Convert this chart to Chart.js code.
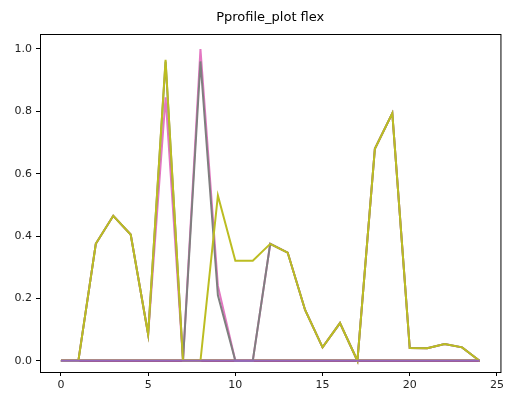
<!DOCTYPE html>
<html>
<head>
<meta charset="utf-8">
<script src="https://cdn.jsdelivr.net/npm/chart.js@4/dist/chart.umd.min.js"></script>
<style>
  html, body { margin: 0; padding: 0; background: #fff; }
  canvas { display: block; }
</style>
</head>
<body>
<canvas id="chart" width="507" height="400"></canvas>
<script>
const title = 'Pprofile_plot flex';

const xValues = [0, 1, 2, 3, 4, 5, 6, 7, 8, 9, 10, 11, 12, 13, 14, 15, 16, 17, 18, 19, 20, 21, 22, 23, 24];

const pinkValues = [0, 0, 0.375, 0.465, 0.405, 0.085, 0.845, 0, 1.0, 0.24, 0, 0, 0.375, 0.347, 0.163, 0.043, 0.121, 0, 0.68, 0.794, 0.041, 0.04, 0.054, 0.043, 0];
const grayValues = [0, 0, 0.375, 0.465, 0.405, 0.085, 0.96, 0, 0.96, 0.21, 0, 0, 0.375, 0.347, 0.163, 0.043, 0.121, 0, 0.68, 0.794, 0.041, 0.04, 0.054, 0.043, 0];
const oliveValues = [0, 0, 0.375, 0.465, 0.405, 0.085, 0.965, 0, 0, 0.53, 0.321, 0.321, 0.375, 0.347, 0.163, 0.043, 0.121, 0, 0.68, 0.794, 0.041, 0.04, 0.054, 0.043, 0];
const zeroValues = [0, 0, 0, 0, 0, 0, 0, 0, 0, 0, 0, 0, 0, 0, 0, 0, 0, 0, 0, 0, 0, 0, 0, 0, 0];

const xTicks = [0, 5, 10, 15, 20, 25];
const yTicks = [0, 0.2, 0.4, 0.6, 0.8, 1.0];

// matplotlib draws later lines on top, so keep that order
const series = [
  {values: zeroValues, color: '#1f77b4'},
  {values: zeroValues, color: '#ff7f0e'},
  {values: zeroValues, color: '#2ca02c'},
  {values: zeroValues, color: '#d62728'},
  {values: pinkValues, color: '#e377c2'},
  {values: grayValues, color: '#7f7f7f'},
  {values: oliveValues, color: '#bcbd22'},
  {values: zeroValues, color: '#9467bd'},
];

const font = {family: '"DejaVu Sans", sans-serif', size: 11};

// axes frame + title centred over the plot area, like matplotlib
const frame = {
  id: 'frame',
  afterDraw(chart) {
    const {ctx, chartArea: a} = chart;
    ctx.save();
    ctx.strokeStyle = '#000';
    ctx.lineWidth = 1;
    ctx.strokeRect(a.left + 0.5, a.top + 0.5, a.right - a.left, a.bottom - a.top);
    ctx.fillStyle = '#000';
    ctx.font = '13px "DejaVu Sans", sans-serif';
    ctx.textAlign = 'center';
    ctx.textBaseline = 'middle';
    ctx.fillText(title, (a.left + a.right) / 2, 18);
    ctx.restore();
  }
};

const axisStyle = {
  grid: {drawOnChartArea: false, drawTicks: true, tickLength: 4, color: '#000'},
  border: {display: true, color: '#000'},
};

new Chart(document.getElementById('chart'), {
  type: 'line',
  data: {
    datasets: series.map((s, i) => ({
      data: xValues.map((x, j) => ({x: x, y: s.values[j]})),
      borderColor: s.color,
      backgroundColor: s.color,
      borderWidth: 2,
      pointRadius: 0,
      tension: 0,
      fill: false,
      order: series.length - i,
    }))
  },
  options: {
    responsive: false,
    animation: false,
    layout: {padding: {top: 34, right: 6}},
    scales: {
      x: {
        type: 'linear',
        min: -1.2,
        max: 25.2,
        ...axisStyle,
        afterBuildTicks: s => { s.ticks = xTicks.map(v => ({value: v})); },
        afterFit: s => { s.height = 28; },
        ticks: {font: font, color: '#222', padding: 3, maxRotation: 0, callback: v => String(v)},
      },
      y: {
        type: 'linear',
        min: -0.036,
        max: 1.048,
        ...axisStyle,
        afterBuildTicks: s => { s.ticks = yTicks.map(v => ({value: v})); },
        afterFit: s => { s.width = 40; },
        ticks: {font: font, color: '#222', padding: 4, callback: v => v.toFixed(1)},
      },
    },
    plugins: {
      legend: {display: false},
      tooltip: {enabled: false},
      title: {display: false},
    },
  },
  plugins: [frame],
});
</script>
</body>
</html>
